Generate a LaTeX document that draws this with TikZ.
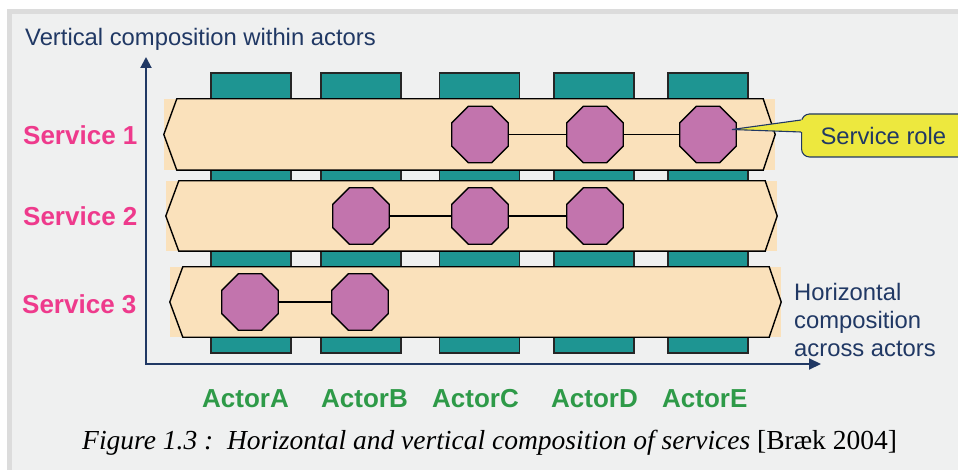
\documentclass[tikz,border=0pt]{standalone}
\usepackage{fontspec}
\setmainfont{Liberation Serif}
\setsansfont{Liberation Sans}
\usetikzlibrary{shapes.geometric,arrows.meta}

\definecolor{panelbg}{HTML}{EFF0F0}
\definecolor{framegray}{HTML}{DCDCDC}
\definecolor{navy}{HTML}{203864}
\definecolor{tealbox}{HTML}{1E9592}
\definecolor{peach}{HTML}{FAE1BB}
\definecolor{rolefill}{HTML}{C274AD}
\definecolor{servicepink}{HTML}{EE3A8C}
\definecolor{actorgreen}{HTML}{2E9A48}
\definecolor{noteyellow}{HTML}{EDE83E}

\tikzset{
  actorbox/.style={draw=black!85, line width=1.1pt, fill=tealbox, inner sep=0pt, minimum width=80pt},
  barbg/.style={fill=peach, inner sep=0pt, minimum width=611pt},
  barline/.style={draw=black, line width=1.4pt, line join=miter},
  roleoct/.style={regular polygon, regular polygon sides=8, minimum size=61pt, inner sep=0pt,
    fill=rolefill, draw=black, line width=1.3pt},
  link/.style={draw=black, line width=1.1pt},
  axis/.style={draw=navy, line width=2pt, line join=miter,
    {Triangle[length=11pt,width=11pt]}-{Triangle[length=12pt,width=11pt]}},
  navytext/.style={text=navy, font=\sffamily\fontsize{23.8}{28}\selectfont, inner sep=0pt, anchor=base west},
  servicelabel/.style={text=servicepink, font=\sffamily\bfseries\fontsize{26}{30}\selectfont, inner sep=0pt, anchor=base west},
  actorlabel/.style={text=actorgreen, font=\sffamily\bfseries\fontsize{26}{30}\selectfont, inner sep=0pt, anchor=base west},
}

\begin{document}
\begin{tikzpicture}[x=1pt, y=-1pt]
\useasboundingbox (0,0) rectangle (958,470);

% page and panel frame
\fill[white] (0,0) rectangle (958,470);
\fill[framegray] (7,9) rectangle (958,470);
\fill[panelbg] (12,14) rectangle (958,470);

% actors (vertical columns)
\node[actorbox, minimum height=280pt] (actA) at (251,213) {};
\node[actorbox, minimum height=280pt] (actB) at (361,213) {};
\node[actorbox, minimum height=280pt] (actC) at (479.5,213) {};
\node[actorbox, minimum height=280pt] (actD) at (594,213) {};
\node[actorbox, minimum height=280pt] (actE) at (708,213) {};

% services (horizontal bars)
\node[barbg, minimum height=71pt] (bar1) at (469.5,134.5) {};
\node[barbg, minimum height=70pt] (bar2) at (471.5,216) {};
\node[barbg, minimum height=70pt] (bar3) at (475.5,302) {};
\foreach \b in {bar1,bar2,bar3}{
  \draw[barline] (\b.west) -- ([xshift=13pt]\b.north west) -- ([xshift=-12pt]\b.north east)
    -- (\b.east) -- ([xshift=-12pt]\b.south east) -- ([xshift=13pt]\b.south west) -- cycle;
}

% service roles
\node[roleoct] (s1c) at (480,134.5) {};
\node[roleoct] (s1d) at (595,134.5) {};
\node[roleoct] (s1e) at (708,134.5) {};
\node[roleoct] (s2b) at (361,216) {};
\node[roleoct] (s2c) at (480,216) {};
\node[roleoct] (s2d) at (595,216) {};
\node[roleoct] (s3a) at (250,302) {};
\node[roleoct] (s3b) at (360,302) {};
\draw[link] (s1c) -- (s1d);
\draw[link] (s1d) -- (s1e);
\draw[link] (s2b) -- (s2c);
\draw[link] (s2c) -- (s2d);
\draw[link] (s3a) -- (s3b);

% axes
\coordinate (vtop) at (146,57);
\coordinate (origin) at (146,364);
\coordinate (htip) at (821,364);
\draw[axis] (vtop) -- (origin) -- (htip);

% axis texts
\node[navytext] (vlabel) at (25,46) {Vertical composition within actors};
\node[navytext] (hlabel1) at (794,300) {Horizontal};
\node[navytext] (hlabel2) at (794,328) {composition};
\node[navytext] (hlabel3) at (794,356) {across actors};

% service names
\node[servicelabel] (svc1) at (23,145) {Service 1};
\node[servicelabel] (svc2) at (23,226) {Service 2};
\node[servicelabel] (svc3) at (22,313) {Service 3};

% actor names
\node[actorlabel] (nameA) at (202,407) {ActorA};
\node[actorlabel] (nameB) at (321,407) {ActorB};
\node[actorlabel] (nameC) at (432,407) {ActorC};
\node[actorlabel] (nameD) at (551,407) {ActorD};
\node[actorlabel] (nameE) at (662,407) {ActorE};

% callout for a service role
\node[anchor=west, fill=noteyellow, draw=navy, line width=1.1pt, rounded corners=8pt,
      minimum height=43pt, inner xsep=19pt, inner ysep=0pt, text=navy,
      font=\sffamily\fontsize{23.8}{28}\selectfont] (role) at (801,135.5) {Service role\hspace*{20pt}};
\coordinate (roletip) at ([xshift=24pt,yshift=5pt]s1e.center);
\coordinate (rolebaseA) at ([yshift=15.5pt]role.west);
\coordinate (rolebaseB) at ([yshift=3.5pt]role.west);
\fill[noteyellow] (rolebaseA) -- (roletip) -- (rolebaseB) -- ([xshift=3pt]rolebaseB) -- ([xshift=3pt]rolebaseA) -- cycle;
\draw[navy, line width=1.1pt] (rolebaseA) -- (roletip) -- (rolebaseB);

% caption
\node[anchor=base west, inner sep=0pt, font=\fontsize{27.5}{32}\selectfont] (caption) at (82,449)
  {\textit{Figure 1.3 :\ \ Horizontal and vertical composition of services} [Bræk 2004]};
\end{tikzpicture}
\end{document}
